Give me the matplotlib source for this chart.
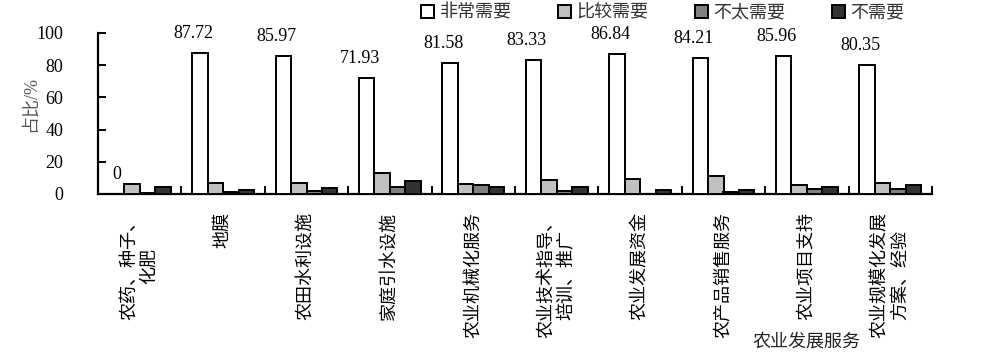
import matplotlib
matplotlib.use("Agg")
import matplotlib.pyplot as plt
import numpy as np

plt.rcParams['font.family'] = ['Liberation Serif', 'Noto Sans CJK SC', 'DejaVu Sans']

categories = ["农药、种子、\n化肥", "地膜", "农田水利设施", "家庭引水设施", "农业机械化服务",
              "农业技术指导、\n培训、推广", "农业发展资金", "农产品销售服务", "农业项目支持",
              "农业规模化发展\n方案、经验"]
series_names = ["非常需要", "比较需要", "不太需要", "不需要"]
very_needed = [0, 87.72, 85.97, 71.93, 81.58, 83.33, 86.84, 84.21, 85.96, 80.35]
fairly_needed = [6.4, 6.8, 6.8, 13.0, 6.4, 8.5, 9.1, 11.2, 5.4, 7.0]
not_very_needed = [0.8, 1.3, 2.0, 4.2, 5.4, 2.0, 0.2, 1.3, 3.0, 3.4]
not_needed = [4.6, 2.4, 3.6, 8.1, 4.5, 4.6, 2.4, 2.4, 4.6, 5.4]
colors = ["#ffffff", "#c0c0c0", "#808080", "#333333"]

fig = plt.figure(figsize=(10, 3.54), dpi=100)
ax = fig.add_axes([0.098, 0.452, 0.834, 0.455])

data = [very_needed, fairly_needed, not_very_needed, not_needed]
n = len(categories)
centers = np.arange(n) + 0.5
bw = 0.185
offsets = (np.arange(4) - 1.5) * bw
handles = []
for k in range(4):
    b = ax.bar(centers + offsets[k], data[k], width=bw, color=colors[k],
               edgecolor="black", linewidth=1.4, label=series_names[k], zorder=3)
    handles.append(b)

for i, v in enumerate(very_needed):
    txt = f"{v:.2f}" if v != 0 else "0"
    dx = -5 if v != 0 else 0
    ax.annotate(txt, xy=(centers[i] + offsets[0], v), xytext=(dx, 14),
                textcoords="offset points", ha="center", va="center",
                fontsize=13, color="black")

ax.set_xlim(0, n)
ax.set_ylim(0, 100)
ax.set_yticks(np.arange(0, 101, 20))
ax.set_xticks(np.arange(0, n + 1))
ax.set_xticklabels([""] * (n + 1))
ax.set_xticks(centers, minor=True)
ax.set_xticklabels(categories, minor=True, rotation=90, ha="center", va="top",
                   multialignment="center", fontsize=13)
ax.tick_params(axis="x", which="major", direction="in", length=6, width=1.4)
ax.tick_params(axis="x", which="minor", length=0, pad=13)
ax.tick_params(axis="y", direction="in", length=6, width=1.4, labelsize=13, pad=25)

for s in ["top", "right"]:
    ax.spines[s].set_visible(False)
for s in ["left", "bottom"]:
    ax.spines[s].set_linewidth(1.6)

fig.text(0.030, 0.706, "占比/%", rotation=90, ha="center", va="center",
         fontsize=13, color="#555555")
fig.text(0.806, 0.034, "农业发展服务", ha="center", va="center", fontsize=13,
         color="#222222")

leg = fig.legend(handles=handles, labels=series_names, loc="center",
                 bbox_to_anchor=(0.663, 0.963), ncol=4, frameon=False, fontsize=13,
                 handlelength=0.7, handleheight=0.7, handletextpad=0.3,
                 columnspacing=2.6, borderpad=0)
for t in leg.get_texts():
    t.set_color("#333333")

fig.savefig("out.png", dpi=100)
